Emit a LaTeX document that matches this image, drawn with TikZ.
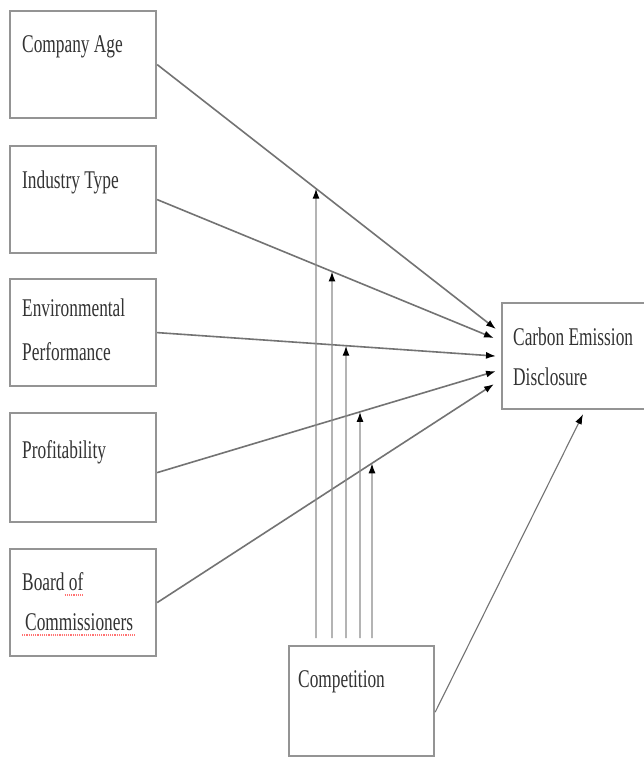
\documentclass[tikz,border=0pt]{standalone}
\usepackage{fontspec}
\newfontfamily\diafont[FakeStretch=0.68]{Liberation Serif}
\usetikzlibrary{arrows.meta,calc,intersections}
\begin{document}
\begin{tikzpicture}[x=1pt,y=-1pt,
  box/.style={draw=black!42, line width=2.2pt, minimum width=146pt, minimum height=107pt, inner sep=0pt, anchor=north west},
  lbl/.style={anchor=base west, inner sep=0pt, text=black!80, font=\diafont\fontsize{25.5}{44}\selectfont},
  conn/.style={draw=black!55, line width=1.6pt, -{Latex[length=10pt,width=7pt,color=black]}},
  modarr/.style={draw=black!45, line width=1.4pt, -{Latex[length=10pt,width=7pt,color=black]}},
  spell/.style={draw=red!55, densely dotted, line width=1.2pt}]
\useasboundingbox (0,0) rectangle (644,758);
\fill[white] (0,0) rectangle (644,758);

% boxes
\node[box] (ca) at (9,10) {};
\node[box] (it) at (9,145) {};
\node[box] (ep) at (9,278) {};
\node[box, minimum height=109pt] (pr) at (9,412) {};
\node[box] (bc) at (9,548) {};
\node[box, minimum width=145pt, minimum height=110pt] (comp) at (288,645) {};
\node[box, minimum width=150pt, minimum height=106pt] (ce) at (501,302) {};

% labels
\node[lbl] (tca) at ($(ca.north west)+(13,42)$) {Company Age};
\node[lbl] (tit) at ($(it.north west)+(13,43)$) {Industry Type};
\node[lbl] (tep1) at ($(ep.north west)+(13,38)$) {Environmental};
\node[lbl] (tep2) at ($(ep.north west)+(13,82)$) {Performance};
\node[lbl] (tpr) at ($(pr.north west)+(13,46)$) {Profitability};
\node[lbl] (tbc1) at ($(bc.north west)+(13,42)$) {Board of};
\node[lbl] (tbc2) at ($(bc.north west)+(16,82)$) {Commissioners};
\node[lbl] (tcomp) at ($(comp.north west)+(10,42)$) {Competition};
\node[lbl] (tce1) at ($(ce.north west)+(12,43)$) {Carbon Emission};
\node[lbl] (tce2) at ($(ce.north west)+(12,83)$) {Disclosure};

% spell-check underlines
\draw[spell] ($(tbc1.base east)+(-19,5)$) -- ($(tbc1.base east)+(0,5)$);
\draw[spell] ($(tbc2.base west)+(-3,5)$) -- ($(tbc2.base east)+(1,5)$);

% end points on Carbon Emission Disclosure
\coordinate (e1) at ($(ce.west)+(-5,-27)$);
\coordinate (e2) at ($(ce.west)+(-7,-18)$);
\coordinate (e3) at ($(ce.west)+(-5,0)$);
\coordinate (e4) at ($(ce.west)+(-5,15)$);
\coordinate (e5) at ($(ce.west)+(-7,28)$);

\draw[conn, name path=pa] (ca.east) -- (e1);
\draw[conn, name path=pb] (it.east) -- (e2);
\draw[conn, name path=pc] (ep.east) -- (e3);
\draw[conn, name path=pd] ($(pr.east)+(0,5)$) coordinate (s4) -- (e4);
\draw[conn, name path=pe] (bc.east) -- (e5);

% moderating arrows
\coordinate (b1) at ($(comp.north west)+(28,-7)$);
\coordinate (b2) at ($(comp.north west)+(44,-7)$);
\coordinate (b3) at ($(comp.north west)+(58,-7)$);
\coordinate (b4) at ($(comp.north west)+(72,-7)$);
\coordinate (b5) at ($(comp.north west)+(84,-7)$);
\path[name path=va] (b1) -- ++(0,-600);
\path[name path=vb] (b2) -- ++(0,-600);
\path[name path=vc] (b3) -- ++(0,-600);
\path[name path=vd] (b4) -- ++(0,-600);
\path[name path=ve] (b5) -- ++(0,-600);
\path[name intersections={of=pa and va, by=t1}];
\path[name intersections={of=pb and vb, by=t2}];
\path[name intersections={of=pc and vc, by=t3}];
\path[name intersections={of=pd and vd, by=t4}];
\path[name intersections={of=pe and ve, by=t5}];
\draw[modarr] (b1) -- (t1);
\draw[modarr] (b2) -- (t2);
\draw[modarr] (b3) -- (t3);
\draw[modarr] (b4) -- (t4);
\draw[modarr] (b5) -- (t5);

% competition -> CED
\coordinate (cs) at ($(comp.east)+(0,11)$);
\coordinate (ct) at ($(ce.south west)+(82,4)$);
\draw[conn, line width=1.1pt] (cs) -- (ct);
\end{tikzpicture}
\end{document}
